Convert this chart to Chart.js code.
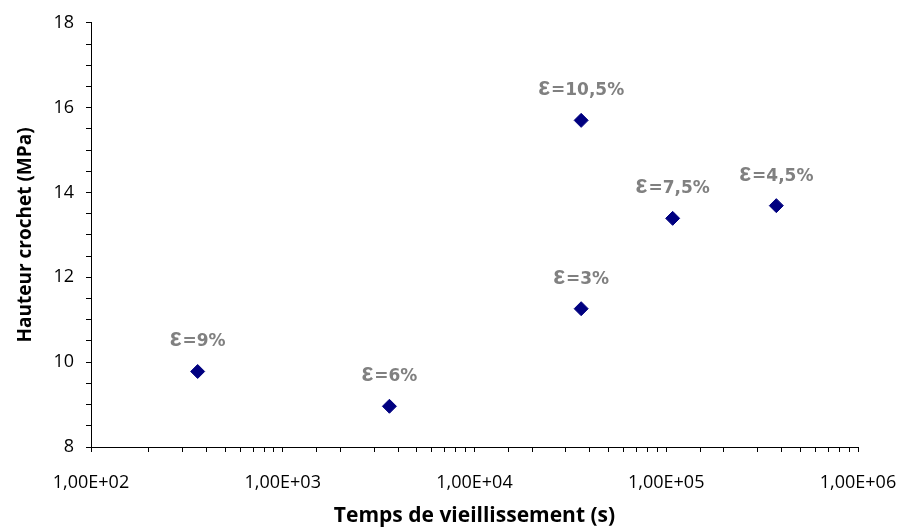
<!DOCTYPE html>
<html>
<head>
<meta charset="utf-8">
<script src="https://cdn.jsdelivr.net/npm/chart.js@4"></script>
<style>
    html, body { margin: 0; padding: 0; background: #fff; }
    #wrap { width: 901px; height: 529px; }
</style>
</head>
<body>
<div id="wrap"><canvas id="chart" width="901" height="529"></canvas></div>
<script>
// ---------- Data ----------
const agingTime = [360, 3600, 36000, 36000, 108000, 375000];
const hookHeight = [9.78, 8.96, 15.70, 11.26, 13.39, 13.69];
const strainLabels = ["=9%", "=6%", "=10,5%", "=3%", "=7,5%", "=4,5%"];
const xTickLabels = ["1,00E+02", "1,00E+03", "1,00E+04", "1,00E+05", "1,00E+06"];
const yTickLabels = ["8", "10", "12", "14", "16", "18"];

// ---------- Point labels (epsilon + text above each marker) ----------
const strainLabelPlugin = {
    id: "strainLabels",
    afterDatasetsDraw(chart) {
        const ctx = chart.ctx;
        const meta = chart.getDatasetMeta(0);
        ctx.save();
        ctx.fillStyle = "#808080";
        ctx.textBaseline = "alphabetic";
        ctx.textAlign = "left";
        meta.data.forEach((pt, i) => {
            const epsFont = "bold 25px 'Liberation Sans'";
            const txtFont = "bold 17px 'DejaVu Sans'";
            ctx.font = epsFont;
            const wEps = ctx.measureText("ε").width;
            ctx.font = txtFont;
            const wTxt = ctx.measureText(strainLabels[i]).width;
            const gap = 1;
            const total = wEps + gap + wTxt;
            const x0 = pt.x - total / 2;
            const base = pt.y - 25;
            ctx.font = epsFont;
            ctx.fillText("ε", x0, base);
            ctx.font = txtFont;
            ctx.fillText(strainLabels[i], x0 + wEps + gap, base);
        });
        ctx.restore();
    }
};

const tickFont = { family: "'Open Sans'", size: 18 };

new Chart(document.getElementById("chart"), {
    type: "scatter",
    data: {
        datasets: [{
            data: agingTime.map((t, i) => ({ x: t, y: hookHeight[i] })),
            pointStyle: "rectRot",
            radius: 7,
            hoverRadius: 7,
            backgroundColor: "#000080",
            borderColor: "#000080",
            borderWidth: 1
        }]
    },
    options: {
        responsive: false,
        animation: false,
        devicePixelRatio: 1,
        layout: { padding: { top: 18, right: 43, left: 0, bottom: 0 } },
        plugins: { legend: { display: false }, tooltip: { enabled: false } },
        scales: {
            x: {
                type: "logarithmic",
                min: 100,
                max: 1000000,
                grid: { drawOnChartArea: false, drawTicks: true, tickLength: 5, color: "#000" },
                border: { color: "#000", width: 1 },
                ticks: {
                    autoSkip: false,
                    maxRotation: 0,
                    padding: 20,
                    color: "#000",
                    font: tickFont,
                    callback: v => {
                        const e = Math.log10(v);
                        return Math.abs(e - Math.round(e)) < 1e-9 ? xTickLabels[Math.round(e) - 2] : "";
                    }
                },
                title: {
                    display: true,
                    text: "Temps de vieillissement (s)",
                    color: "#000",
                    font: { family: "'Open Sans'", size: 21, weight: "bold" },
                    padding: { top: -2, bottom: 0 }
                },
                afterFit: s => { s.height = 82; s.paddingLeft = 0; s.paddingRight = 0; }
            },
            y: {
                min: 8,
                max: 18,
                grid: { drawOnChartArea: false, drawTicks: true, tickLength: 5, color: "#000" },
                border: { color: "#000", width: 1 },
                ticks: {
                    stepSize: 0.5,
                    autoSkip: false,
                    padding: 12,
                    color: "#000",
                    font: tickFont,
                    callback: v => (Number.isInteger(v) && v % 2 === 0) ? yTickLabels[(v - 8) / 2] : ""
                },
                title: {
                    display: true,
                    text: "Hauteur crochet (MPa)",
                    color: "#000",
                    font: { family: "'Open Sans'", size: 19, weight: "bold" },
                    padding: { top: 14, bottom: 0 }
                },
                afterFit: s => { s.width = 91; }
            }
        }
    },
    plugins: [strainLabelPlugin]
});
</script>
</body>
</html>
